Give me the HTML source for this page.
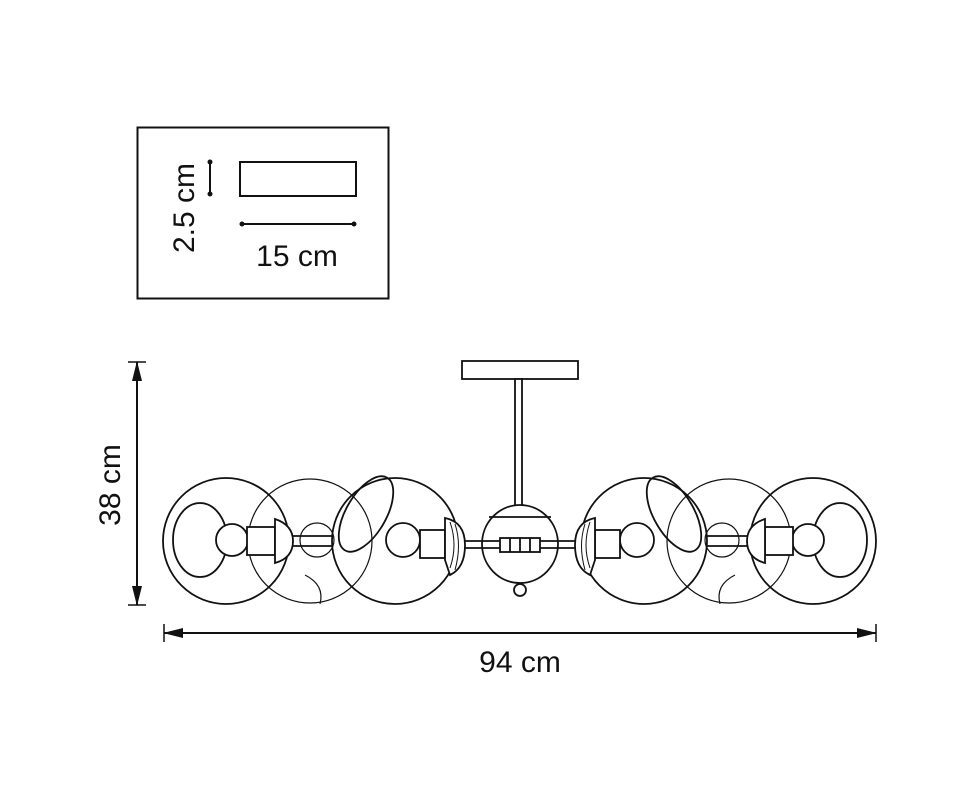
<!DOCTYPE html>
<html><head><style>
html,body{margin:0;padding:0;background:#fff;}
svg{display:block;}
text{font-family:"Liberation Sans","DejaVu Sans",sans-serif;fill:#111;}
</style></head><body>
<svg width="978" height="800" viewBox="0 0 978 800" xmlns="http://www.w3.org/2000/svg">
<defs>
<marker id="ar" viewBox="0 0 20 10" refX="19" refY="5" markerWidth="20" markerHeight="10" markerUnits="userSpaceOnUse" orient="auto-start-reverse">
<path d="M0,0 L20,5 L0,10 Z" fill="#111"/></marker>
</defs>
<rect x="137.5" y="127.5" width="251" height="171" fill="none" stroke="#111" stroke-width="2"/>
<rect x="240" y="162" width="116" height="34" fill="none" stroke="#111" stroke-width="2"/>
<line x1="210" y1="162" x2="210" y2="194" stroke="#111" stroke-width="2"/>
<circle cx="210" cy="162" r="2.5" fill="#111"/><circle cx="210" cy="194" r="2.5" fill="#111"/>
<line x1="242" y1="224" x2="354" y2="224" stroke="#111" stroke-width="2"/>
<circle cx="242" cy="224" r="2.5" fill="#111"/><circle cx="354" cy="224" r="2.5" fill="#111"/>
<text x="297" y="266" font-size="30" text-anchor="middle">15 cm</text>
<text transform="translate(194,208) rotate(-90)" font-size="30" text-anchor="middle">2.5 cm</text>

<line x1="137" y1="362" x2="137" y2="605" stroke="#111" stroke-width="2" marker-start="url(#ar)" marker-end="url(#ar)"/>
<line x1="128" y1="362" x2="146" y2="362" stroke="#111" stroke-width="1.5"/>
<line x1="128" y1="605" x2="146" y2="605" stroke="#111" stroke-width="1.5"/>
<text transform="translate(120,485) rotate(-90)" font-size="30" text-anchor="middle">38 cm</text>
<line x1="164" y1="633" x2="876" y2="633" stroke="#111" stroke-width="2" marker-start="url(#ar)" marker-end="url(#ar)"/>
<line x1="164" y1="624" x2="164" y2="642" stroke="#111" stroke-width="1.5"/>
<line x1="876" y1="624" x2="876" y2="642" stroke="#111" stroke-width="1.5"/>
<text x="520" y="672" font-size="30" text-anchor="middle">94 cm</text>

<g fill="none" stroke="#111" stroke-width="1.8">
<rect x="462" y="361" width="116" height="18" fill="#fff"/>
<rect x="515" y="379" width="7" height="128" fill="#fff"/>
<circle cx="310" cy="541" r="62" stroke-width="1.2"/>
<circle cx="729" cy="541" r="62" stroke-width="1.2"/>
<path d="M305,575 Q325,585 320,604" stroke-width="1.2"/>
<path d="M735,575 Q715,585 720,604" stroke-width="1.2"/>
<circle cx="317" cy="540" r="17" stroke-width="1.2"/>
<circle cx="722" cy="540" r="17" stroke-width="1.2"/>
<circle cx="226" cy="541" r="63" fill="none"/>
<circle cx="395" cy="541" r="63" fill="none"/>
<circle cx="644" cy="541" r="63" fill="none"/>
<circle cx="813" cy="541" r="63" fill="none"/>
<ellipse cx="200" cy="540" rx="27" ry="37"/>
<ellipse cx="840" cy="540" rx="27" ry="37"/>
<ellipse cx="366" cy="514" rx="20" ry="42" transform="rotate(30 366 514)"/>
<ellipse cx="674" cy="514" rx="20" ry="42" transform="rotate(-30 674 514)"/>
<line x1="293" y1="536" x2="333" y2="536"/><line x1="293" y1="546" x2="333" y2="546"/>
<line x1="707" y1="536" x2="747" y2="536"/><line x1="707" y1="546" x2="747" y2="546"/>
<circle cx="232" cy="540" r="16" fill="#fff"/>
<circle cx="808" cy="540" r="16" fill="#fff"/>
<circle cx="403" cy="540" r="17" fill="#fff"/>
<circle cx="637" cy="540" r="17" fill="#fff"/>
<rect x="247" y="527" width="28" height="28" fill="#fff"/>
<rect x="765" y="527" width="28" height="28" fill="#fff"/>
<path d="M275,519 Q293,525 293,541 Q293,558 275,563 Z" fill="#fff"/>
<path d="M765,519 Q747,525 747,541 Q747,558 765,563 Z" fill="#fff"/>
<rect x="420" y="530" width="25" height="28" fill="#fff"/>
<rect x="595" y="530" width="25" height="28" fill="#fff"/>
<path d="M445,518 Q465,522 465,545 Q465,568 450,575 L445,560 Z" fill="#fff"/>
<path d="M595,518 Q575,522 575,545 Q575,568 590,575 L595,560 Z" fill="#fff"/>
<path d="M450,522 Q458,545 450,568 M455,524 Q462,545 455,570" stroke-width="1"/>
<path d="M590,522 Q582,545 590,568 M585,524 Q578,545 585,570" stroke-width="1"/>
<ellipse cx="520" cy="544" rx="38" ry="39" fill="#fff"/>
<line x1="489" y1="517" x2="551" y2="517"/>
<circle cx="520" cy="590" r="6" fill="#fff"/>
<line x1="465" y1="541" x2="500" y2="541"/><line x1="465" y1="548" x2="500" y2="548"/>
<line x1="540" y1="541" x2="575" y2="541"/><line x1="540" y1="548" x2="575" y2="548"/>
<rect x="500" y="538" width="40" height="14" fill="#fff"/>
<line x1="510" y1="538" x2="510" y2="552"/><line x1="520" y1="538" x2="520" y2="552"/><line x1="530" y1="538" x2="530" y2="552"/>
</g>
</svg>
</body></html>
